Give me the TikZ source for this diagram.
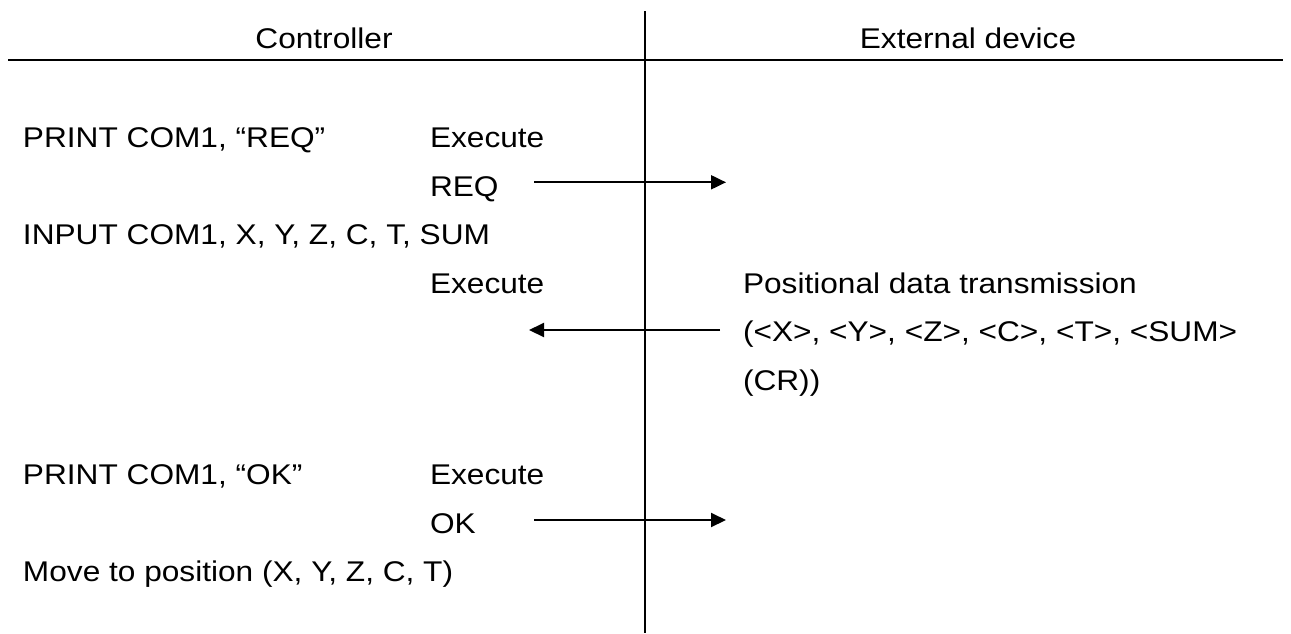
\documentclass[tikz,border=0pt]{standalone}
\usepackage{fontspec}
\setmainfont{Liberation Sans}[FakeStretch=1.11]
\usetikzlibrary{arrows.meta}
\begin{document}
\begin{tikzpicture}[x=1pt,y=-1pt,
  txt/.style={anchor=base west,inner sep=0pt,outer sep=0pt,font=\fontsize{28.5}{34}\selectfont},
  ttl/.style={anchor=base,inner sep=0pt,outer sep=0pt,font=\fontsize{28.5}{34}\selectfont},
  rule/.style={line width=2pt},
  msg/.style={line width=2pt,-{Triangle[length=15pt,width=14pt]}}]
\useasboundingbox (0,0) rectangle (1291,633);
% separators
\coordinate (vtop) at (645,11);
\coordinate (vbot) at (645,633);
\coordinate (hl) at (8,60);
\coordinate (hr) at (1283,60);
\draw[rule] (vtop) -- (vbot);
\draw[rule] (hl) -- (hr);
% titles
\node[ttl] (ctrl) at (324,48) {Controller};
\node[ttl] (ext) at (968,48) {External device};
% left column
\node[txt] (p1) at (23,147) {PRINT COM1, “REQ”};
\node[txt] (e1) at (430,147) {Execute};
\node[txt] (req) at (430,196) {REQ};
\node[txt] (inp) at (23,244.5) {INPUT COM1, X, Y, Z, C, T, SUM};
\node[txt] (e2) at (430,293) {Execute};
\node[txt] (pos1) at (743,293) {Positional data transmission};
\node[txt] (pos2) at (743,341.5) {(<X>, <Y>, <Z>, <C>, <T>, <SUM>};
\node[txt] (pos3) at (743,390) {(CR))};
\node[txt] (p2) at (23,484.7) {PRINT COM1, “OK”};
\node[txt] (e3) at (430,484.7) {Execute};
\node[txt] (ok) at (430,533) {OK};
\node[txt] (mv) at (23,581.7) {Move to position (X, Y, Z, C, T)};
% messages
\coordinate (a1s) at (534,182.3);
\coordinate (a1e) at (726,182.3);
\coordinate (a2s) at (720,330);
\coordinate (a2e) at (529,330);
\coordinate (a3s) at (534,520);
\coordinate (a3e) at (726,520);
\draw[msg] (a1s) -- (a1e);
\draw[msg] (a2s) -- (a2e);
\draw[msg] (a3s) -- (a3e);
\end{tikzpicture}
\end{document}
